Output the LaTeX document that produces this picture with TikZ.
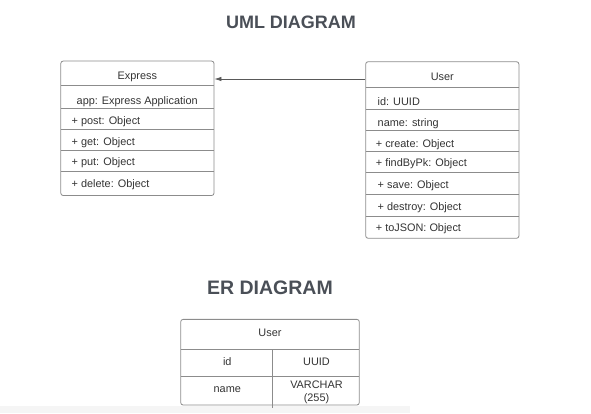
\documentclass[tikz,border=0pt]{standalone}
\usepackage{fontspec}
\setmainfont{Liberation Sans}
\usetikzlibrary{arrows.meta}
\definecolor{titlegray}{HTML}{4A4F57}
\definecolor{linegray}{HTML}{8C8C8C}
\definecolor{textgray}{HTML}{333333}
\tikzset{
  tablebox/.style={draw=linegray,line width=0.8pt,rounded corners=2.5pt,inner sep=0pt},
  rowline/.style={draw=linegray,line width=0.8pt},
  member/.style={anchor=base west,inner sep=0pt,text=textgray,font=\fontsize{10.9}{13}\selectfont},
  cell/.style={anchor=base,inner sep=0pt,text=textgray,font=\fontsize{10.9}{13}\selectfont},
  heading/.style={text=titlegray,font=\bfseries\fontsize{18}{22}\selectfont},
  assoc/.style={draw=black!65,line width=0.7pt,-{Latex[length=7pt,width=4.5pt]}}
}

\begin{document}
\begin{tikzpicture}[x=1pt,y=-1pt]
\useasboundingbox (0,0) rectangle (591,413);
\fill[black!4] (0,405.5) rectangle (410,413);

\node[heading] (umlhead) at (291,22) {UML DIAGRAM};
\node[heading,font=\bfseries\fontsize{19.5}{23}\selectfont] (erhead) at (270,288) {ER DIAGRAM};

\begin{scope}[every node/.style={tablebox}]
    \node[minimum width=153.3pt,minimum height=134.5pt] (express) at (137.4,128.3) {};
    \node[minimum width=153.3pt,minimum height=176.6pt] (user) at (442.3,150) {};
    \node[minimum width=178.6pt,minimum height=85.7pt] (usertab) at (270,362.2) {};
\end{scope}

% row lines
\foreach \y in {85,108.3,129.3,150,171.7}
    \draw[rowline] (61,\y) -- (214,\y);
\foreach \y in {87.3,109.3,130.7,151.7,172.3,194.3,216}
    \draw[rowline] (365.7,\y) -- (519,\y);
\foreach \y in {349,376.7}
    \draw[rowline] (180.7,\y) -- (359.3,\y);
\draw[rowline] (272.3,349) -- (272.3,407.5);

% Express class
\node[cell] (exname) at (137.4,79) {Express};
\node[member] (exapp) at (76.5,104) {app: Express Application};
\foreach \t/\y [count=\i] in {+ post: Object/124.5,+ get: Object/145.3,
        + put: Object/165.8,+ delete: Object/187.7}
    \node[member] (exm\i) at (71.5,\y) {\t};

% User class
\node[cell] (usname) at (442.3,80.5) {User};
\foreach \t/\x/\y [count=\i] in {id: UUID/377.5/105.2,name: string/377.5/126.7,
        + create: Object/375.7/147.5,+ findByPk: Object/375.7/166.8,
        + save: Object/377.5/188,+ destroy: Object/377.5/210.3,
        + toJSON: Object/375.7/231.7}
    \node[member] (usm\i) at (\x,\y) {\t};

\draw[assoc] (user.west |- 0,79) -- (express.east |- 0,79);

% User table
\node[cell] (tabname) at (270,336.7) {User};
\node[cell] (colid) at (227.3,365.8) {id};
\node[cell] (typeid) at (316.5,365.8) {UUID};
\node[cell] (colname) at (227.3,392.8) {name};
\node[cell] (typename) at (316.5,388.5) {VARCHAR};
\node[cell] (typelen) at (316.5,401.8) {(255)};
\end{tikzpicture}
\end{document}
